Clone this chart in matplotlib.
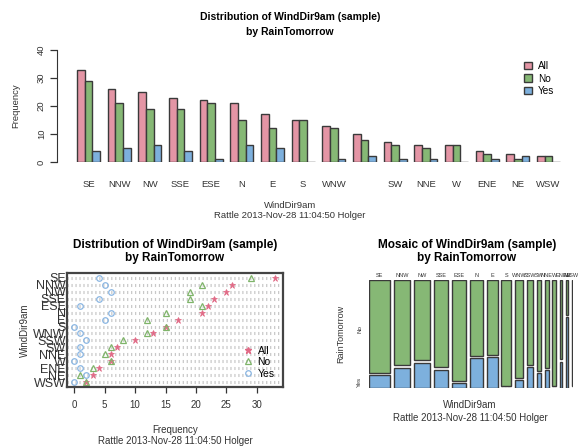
import numpy as np
import matplotlib
matplotlib.use("Agg")
import matplotlib.pyplot as plt
from matplotlib.patches import Patch, Rectangle
from matplotlib.lines import Line2D

plt.rcParams["font.family"] = ["Liberation Sans", "DejaVu Sans"]

# WindDir9am counts by RainTomorrow (sample)
categories = ["SE", "NNW", "NW", "SSE", "ESE", "N", "E", "S", "WNW",
              "SSW", "SW", "NNE", "W", "ENE", "NE", "WSW"]
all_counts = [33, 26, 25, 23, 22, 21, 17, 15, 13, 10, 7, 6, 6, 4, 3, 2]
no_counts = [29, 21, 19, 19, 21, 15, 12, 15, 12, 8, 6, 5, 6, 3, 1, 2]
yes_counts = [4, 5, 6, 4, 1, 6, 5, 0, 1, 2, 1, 1, 0, 1, 2, 0]
# R drops the SSW label under the bars because it overlaps
bar_tick_labels = ["SE", "NNW", "NW", "SSE", "ESE", "N", "E", "S", "WNW",
                   "", "SW", "NNE", "W", "ENE", "NE", "WSW"]
series_names = ["All", "No", "Yes"]
footer = "Rattle 2013-Nov-28 11:04:50 Holger"

pink = "#E495A5"
green = "#86B875"
blue = "#7DB0DD"
edge = "#3a3a3a"
text_col = "#333333"

W, H = 578, 447
fig = plt.figure(figsize=(W / 100, H / 100), dpi=100)


def px_axes(left, top, right, bottom):
    return fig.add_axes([left / W, 1 - bottom / H, (right - left) / W,
                         (bottom - top) / H])


# ---------------- top: grouped bar chart ----------------
ax = px_axes(57, 50, 578, 162)
n = len(categories)
group_left = 1 + 4 * np.arange(n)
series = [all_counts, no_counts, yes_counts]
colors = [pink, green, blue]
for j, (vals, col) in enumerate(zip(series, colors)):
    ax.bar(group_left + j, vals, width=1, align="edge", color=col,
           edgecolor=edge, linewidth=1.0)

unit = (560 - 77) / 63
ax.set_xlim(1 - (77 - 57) / unit, 64 + (578 - 560) / unit)
ax.set_ylim(0, 40)
for s in ["top", "right", "bottom"]:
    ax.spines[s].set_visible(False)
ax.spines["left"].set_bounds(0, 40)
ax.spines["left"].set_color(text_col)
ax.set_yticks([0, 10, 20, 30, 40])
ax.set_yticklabels(["0", "10", "20", "30", "40"], rotation=90, va="center")
ax.tick_params(axis="y", length=5, width=0.9, colors=text_col, labelsize=6.8,
               pad=3)
ax.set_xticks(group_left + 1.5)
ax.set_xticklabels(bar_tick_labels)
ax.tick_params(axis="x", length=0, labelsize=6.8, pad=13, colors=text_col)
ax.set_ylabel("Frequency", fontsize=6.8, color=text_col, labelpad=12)
ax.patch.set_alpha(0)

handles = [Patch(facecolor=c, edgecolor=edge, linewidth=1.0) for c in colors]
ax.legend(handles, series_names, loc="upper left",
          bbox_to_anchor=(519 / W, 1 - 56 / H), bbox_transform=fig.transFigure,
          frameon=False, fontsize=7.2, handlelength=0.8, handleheight=0.8,
          handletextpad=0.6, labelspacing=0.25, borderpad=0)

fig.text(290 / W, 1 - 17 / H, "Distribution of WindDir9am (sample)",
         ha="center", va="center", fontsize=7.5, fontweight="bold")
fig.text(290 / W, 1 - 32 / H, "by RainTomorrow",
         ha="center", va="center", fontsize=7.5, fontweight="bold")
fig.text(290 / W, 1 - 205 / H, "WindDir9am", ha="center", va="center",
         fontsize=6.8, color=text_col)
fig.text(290 / W, 1 - 216 / H, footer, ha="center", va="center",
         fontsize=6.8, color=text_col)

# ---------------- bottom left: dot plot ----------------
ax2 = px_axes(67, 273, 283, 387)
rows = np.arange(n)[::-1]
for r in rows:
    ax2.axhline(r, color="#c8c8c8", lw=2.2, dashes=(0.4, 0.9), zorder=0)
ax2.plot(all_counts, rows, ls="none", marker="*", ms=5, color="#E16A86",
         markeredgewidth=0.5)
ax2.plot(no_counts, rows, ls="none", marker="^", ms=5, mfc="none",
         mec="#7FB46A", mew=0.9)
ax2.plot(yes_counts, rows, ls="none", marker="o", ms=4, mfc="none",
         mec="#8AB6E2", mew=0.9)
ax2.set_xlim(-1.2, 34.3)
ax2.set_ylim(-0.7, 15.7)
ax2.set_yticks(rows)
ax2.set_yticklabels(categories)
ax2.tick_params(axis="y", length=0, labelsize=9, pad=1, colors=text_col)
ax2.set_xticks([0, 5, 10, 15, 20, 25, 30])
ax2.tick_params(axis="x", length=4, width=0.9, labelsize=7, pad=5,
                colors=text_col)
for s in ax2.spines.values():
    s.set_linewidth(1.6)
    s.set_color("#444444")
leg_handles = [
    Line2D([], [], ls="none", marker="*", ms=5, color="#E16A86"),
    Line2D([], [], ls="none", marker="^", ms=5, mfc="none", mec="#7FB46A",
           mew=0.9),
    Line2D([], [], ls="none", marker="o", ms=4, mfc="none", mec="#8AB6E2",
           mew=0.9),
]
ax2.legend(leg_handles, series_names, loc="lower right", frameon=False,
           fontsize=7.5, handlelength=1.0, handletextpad=0.4,
           labelspacing=0.15, borderpad=0.2, borderaxespad=0.6)

fig.text(25 / W, 1 - 330 / H, "WindDir9am", rotation=90, ha="center",
         va="center", fontsize=7, color=text_col)
fig.text(175 / W, 1 - 245 / H, "Distribution of WindDir9am (sample)",
         ha="center", va="center", fontsize=8.5, fontweight="bold")
fig.text(175 / W, 1 - 258 / H, "by RainTomorrow",
         ha="center", va="center", fontsize=8.5, fontweight="bold")
fig.text(175 / W, 1 - 430 / H, "Frequency", ha="center", va="center",
         fontsize=7, color=text_col)
fig.text(175 / W, 1 - 441 / H, footer, ha="center", va="center",
         fontsize=7, color=text_col)

# ---------------- bottom right: mosaic ----------------
ax3 = px_axes(369, 280, 573, 388)
gap = 0.018
vgap = 0.02
scale = (1 - gap * (n - 1)) / sum(all_counts)
x0 = 0
for cat, tot, yes in zip(categories, all_counts, yes_counts):
    w = tot * scale
    yes_h = yes / tot * (1 - vgap)
    if yes > 0:
        ax3.add_patch(Rectangle((x0, 0), w, yes_h, facecolor=blue,
                                edgecolor=edge, lw=1.0))
        ax3.add_patch(Rectangle((x0, yes_h + vgap), w, 1 - yes_h - vgap,
                                facecolor=green, edgecolor=edge, lw=1.0))
    else:
        ax3.add_patch(Rectangle((x0, vgap), w, 1 - vgap, facecolor=green,
                                edgecolor=edge, lw=1.0))
        ax3.plot([x0, x0 + w], [0, 0], color=edge, lw=0.8, ls=(0, (1.5, 1.5)))
    ax3.text(x0 + w / 2, 1.015, cat, ha="center", va="bottom", fontsize=4,
             color=text_col)
    x0 += w + gap
ax3.set_xlim(0, 1)
ax3.set_ylim(0, 1)
ax3.axis("off")
ax3.text(-0.045, 0.55, "No", rotation=90, ha="center", va="center",
         fontsize=4.5, color=text_col)
ax3.text(-0.045, 0.06, "Yes", rotation=90, ha="center", va="center",
         fontsize=4.5, color=text_col)
ax3.text(-0.14, 0.5, "RainTomorrow", rotation=90, ha="center", va="center",
         fontsize=6.5, color=text_col)

fig.text(467 / W, 1 - 245 / H, "Mosaic of WindDir9am (sample)",
         ha="center", va="center", fontsize=8.5, fontweight="bold")
fig.text(467 / W, 1 - 258 / H, "by RainTomorrow",
         ha="center", va="center", fontsize=8.5, fontweight="bold")
fig.text(470 / W, 1 - 405 / H, "WindDir9am", ha="center", va="center",
         fontsize=7, color=text_col)
fig.text(470 / W, 1 - 418 / H, footer, ha="center", va="center",
         fontsize=7, color=text_col)

fig.savefig("out.png", dpi=100, facecolor="white")
